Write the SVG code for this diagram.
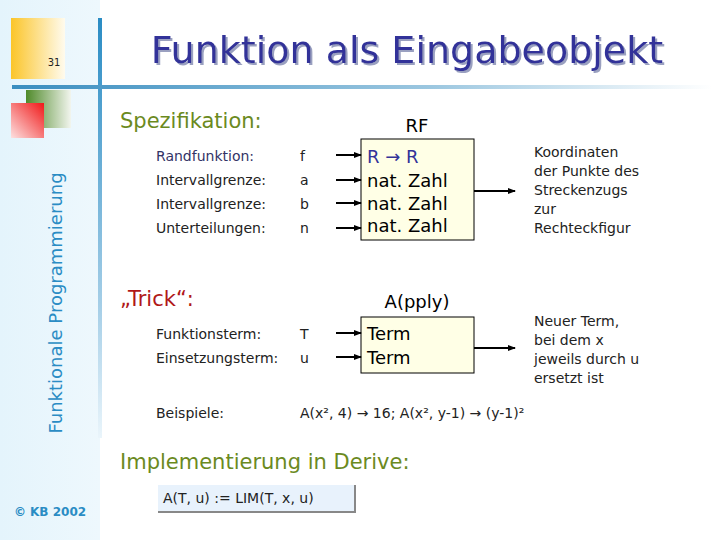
<svg xmlns="http://www.w3.org/2000/svg" width="720" height="540" viewBox="0 0 720 540">
<defs>
<linearGradient id="side" x1="0" y1="0" x2="1" y2="0"><stop offset="0" stop-color="#e4f4fc"/><stop offset="1" stop-color="#eef8fd"/></linearGradient>
<linearGradient id="hl" x1="0" y1="0" x2="1" y2="0"><stop offset="0" stop-color="#3a8ec0"/><stop offset="0.6" stop-color="#9cc7e0"/><stop offset="1" stop-color="#ffffff"/></linearGradient>
<linearGradient id="vl" x1="0" y1="0" x2="0" y2="1"><stop offset="0" stop-color="#2a8cc4"/><stop offset="0.7" stop-color="#a8d0e8"/><stop offset="1" stop-color="#eaf5fb"/></linearGradient>
<linearGradient id="yel" x1="0" y1="0" x2="1" y2="0"><stop offset="0" stop-color="#fbc52a"/><stop offset="1" stop-color="#fffbee"/></linearGradient>
<linearGradient id="grn" x1="0" y1="0" x2="1" y2="0"><stop offset="0" stop-color="#4f8a2a"/><stop offset="1" stop-color="#f2f5ee"/></linearGradient>
<linearGradient id="red" x1="1" y1="0" x2="0" y2="1"><stop offset="0" stop-color="#f01818"/><stop offset="1" stop-color="#fde0e0"/></linearGradient>
<filter id="sh" x="-5%" y="-20%" width="110%" height="140%"><feDropShadow dx="2" dy="2" stdDeviation="0.5" flood-color="#9aa0c0"/></filter>
<marker id="ah" markerWidth="8" markerHeight="6" refX="7" refY="3" orient="auto" markerUnits="userSpaceOnUse"><path d="M0,0 L8,3 L0,6 z" fill="#000"/></marker>
</defs>
<style>
.lab{font-family:"DejaVu Sans",sans-serif;font-size:14px;fill:#222}
.box{fill:#ffffe6;stroke:#000;stroke-width:1}
.bt{font-family:"DejaVu Sans",sans-serif;font-size:18px;fill:#000}
.sec{font-family:"DejaVu Sans",sans-serif;font-size:21px;fill:#6b8a1e}
.ar{stroke:#000;stroke-width:2;marker-end:url(#ah)}
</style>
<rect x="0" y="0" width="720" height="540" fill="#fff"/>
<rect x="0" y="0" width="100" height="540" fill="url(#side)"/>
<rect x="100" y="0" width="6" height="540" fill="#fff"/>
<rect x="11" y="18" width="54" height="61" fill="url(#yel)"/>
<rect x="26" y="90" width="45" height="38" fill="url(#grn)"/>
<rect x="11" y="103" width="33" height="35" fill="url(#red)"/>
<rect x="98" y="18" width="4" height="420" fill="url(#vl)"/>
<rect x="12" y="85" width="700" height="4" fill="url(#hl)"/>
<text x="54" y="66" font-family="DejaVu Sans Condensed,sans-serif" font-size="11" fill="#222" text-anchor="middle">31</text>
<text x="407" y="63" font-family="DejaVu Sans,sans-serif" font-size="38" fill="#333399" text-anchor="middle" filter="url(#sh)">Funktion als Eingabeobjekt</text>
<text transform="translate(62,303) rotate(-90)" font-family="DejaVu Sans,sans-serif" font-size="18" fill="#2a8cc4" text-anchor="middle">Funktionale Programmierung</text>
<text x="50" y="516" font-family="DejaVu Sans,sans-serif" font-size="12" font-weight="bold" fill="#2a8cc4" text-anchor="middle">© KB 2002</text>
<text x="120" y="128" class="sec">Spezifikation:</text>
<text x="120" y="306" class="sec" style="fill:#b01818">„Trick“:</text>
<text x="120" y="469" class="sec">Implementierung in Derive:</text>
<g id="labels-spec">
<text x="156" y="161" class="lab" style="fill:#333366">Randfunktion:</text>
<text x="156" y="185" class="lab">Intervallgrenze:</text>
<text x="156" y="209" class="lab">Intervallgrenze:</text>
<text x="156" y="233" class="lab">Unterteilungen:</text>
<text x="300" y="161" class="lab">f</text>
<text x="300" y="185" class="lab">a</text>
<text x="300" y="209" class="lab">b</text>
<text x="300" y="233" class="lab">n</text>
<text x="156" y="339" class="lab">Funktionsterm:</text>
<text x="156" y="363" class="lab">Einsetzungsterm:</text>
<text x="300" y="339" class="lab">T</text>
<text x="300" y="363" class="lab">u</text>
<text x="156" y="418" class="lab">Beispiele:</text>
<text x="300" y="418" class="lab">A(x², 4) → 16; A(x², y-1) → (y-1)²</text>
</g>
<g id="node-rf">
<text x="417" y="132" class="bt" text-anchor="middle">RF</text>
<rect x="361" y="139" width="113" height="101" class="box"/>
<text x="367" y="163" class="bt" style="fill:#333399">R → R</text>
<text x="367" y="187" class="bt">nat. Zahl</text>
<text x="367" y="210" class="bt">nat. Zahl</text>
<text x="367" y="232" class="bt">nat. Zahl</text>
</g>
<g id="node-apply">
<text x="417" y="308" class="bt" text-anchor="middle">A(pply)</text>
<rect x="361" y="317" width="113" height="56" class="box"/>
<text x="367" y="340" class="bt">Term</text>
<text x="367" y="364" class="bt">Term</text>
</g>
<g id="out-labels">
<text class="lab"><tspan x="534" y="157">Koordinaten</tspan><tspan x="534" y="176">der Punkte des</tspan><tspan x="534" y="195">Streckenzugs</tspan><tspan x="534" y="214">zur</tspan><tspan x="534" y="233">Rechteckfigur</tspan></text>
<text class="lab"><tspan x="534" y="326">Neuer Term,</tspan><tspan x="534" y="345">bei dem x</tspan><tspan x="534" y="364">jeweils durch u</tspan><tspan x="534" y="383">ersetzt ist</tspan></text>
</g>
<g id="connectors">
<line x1="336" y1="155" x2="361" y2="155" class="ar"/>
<line x1="336" y1="180" x2="361" y2="180" class="ar"/>
<line x1="336" y1="203" x2="361" y2="203" class="ar"/>
<line x1="336" y1="228" x2="361" y2="228" class="ar"/>
<line x1="474" y1="191" x2="515" y2="191" class="ar"/>
<line x1="336" y1="333" x2="361" y2="333" class="ar"/>
<line x1="336" y1="357" x2="361" y2="357" class="ar"/>
<line x1="474" y1="348" x2="515" y2="348" class="ar"/>
</g>
<g id="derive">
<rect x="158" y="485" width="196" height="27" fill="#e8f2fc"/>
<path d="M158,512 H355 V485" fill="none" stroke="#888" stroke-width="2"/>
<text x="163" y="503" class="lab">A(T, u) := LIM(T, x, u)</text>
</g>
</svg>
